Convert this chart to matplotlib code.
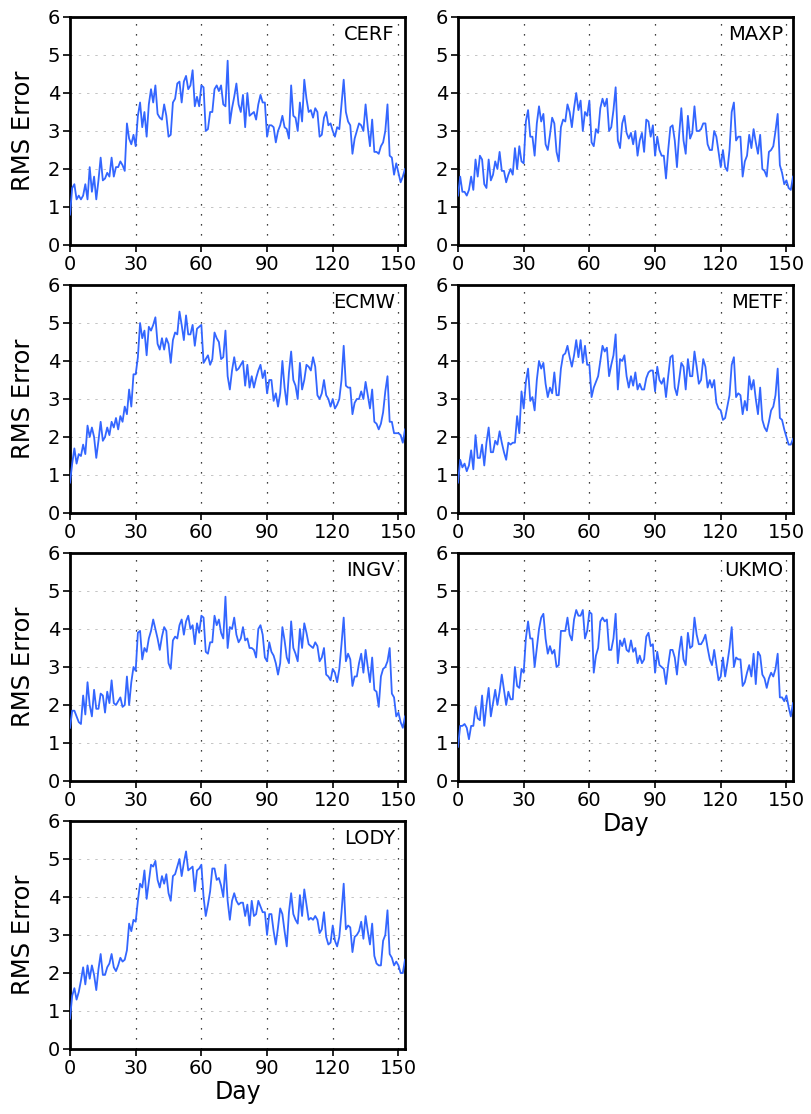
import numpy as np
import matplotlib
matplotlib.use("Agg")
import matplotlib.pyplot as plt

models = ["CERF", "MAXP", "ECMW", "METF", "INGV", "UKMO", "LODY"]

cerf = [0.8, 1.5, 1.6, 1.2, 1.3, 1.2, 1.3, 1.6, 1.2, 2.05,
        1.4, 1.8, 1.2, 1.7, 2.3, 1.7, 1.75, 1.9, 1.8, 2.3,
        1.8, 2.05, 2.05, 2.2, 2.1, 1.95, 3.2, 2.8, 2.65, 2.9,
        2.6, 3.4, 3.75, 3.1, 3.5, 2.85, 3.7, 4.1, 3.75, 4.2,
        3.45, 3.35, 3.3, 3.7, 3.4, 2.85, 2.9, 3.75, 3.85, 4.25,
        4.3, 3.75, 4.3, 4.45, 4.1, 4.2, 4.6, 3.65, 3.9, 3.65,
        4.2, 4.15, 3.0, 3.05, 3.5, 3.5, 4.1, 4.2, 4.05, 4.2,
        3.7, 3.65, 4.85, 3.2, 3.6, 3.9, 4.25, 3.7, 3.5, 3.95,
        3.1, 4.0, 3.4, 3.45, 3.5, 3.3, 3.7, 3.95, 3.75, 3.75,
        2.85, 3.15, 3.15, 3.1, 2.7, 3.0, 3.15, 3.4, 3.1, 3.05,
        2.8, 4.2, 3.4, 3.35, 3.0, 3.75, 3.25, 4.35, 3.85, 3.5,
        3.55, 3.35, 3.6, 3.5, 2.85, 2.9, 3.35, 3.5, 3.15, 3.2,
        3.0, 2.85, 3.1, 3.05, 3.7, 4.35, 3.5, 3.25, 3.15, 2.4,
        2.8, 3.0, 3.2, 3.15, 3.0, 3.7, 3.1, 2.6, 3.3, 2.45,
        2.45, 2.4, 2.6, 2.7, 3.0, 3.7, 2.35, 2.3, 1.85, 2.15,
        1.9, 1.65, 1.8, 2.0]

maxp = [1.3, 1.8, 1.4, 1.4, 1.3, 1.45, 1.8, 1.45, 2.25, 1.8,
        2.35, 2.25, 1.6, 1.5, 2.25, 1.7, 1.85, 2.2, 2.0, 2.45,
        1.95, 1.95, 1.65, 1.85, 2.0, 1.85, 2.55, 2.0, 2.6, 2.2,
        2.15, 3.25, 3.55, 2.85, 2.85, 2.35, 3.2, 3.65, 3.25, 3.45,
        2.65, 2.5, 2.9, 3.35, 3.2, 2.45, 2.2, 3.1, 3.3, 3.25,
        3.7, 3.5, 3.1, 3.6, 4.0, 3.55, 3.8, 3.0, 3.5, 3.4,
        3.8, 2.7, 2.6, 3.05, 2.95, 3.6, 3.85, 3.65, 3.85, 3.0,
        3.1, 3.55, 4.15, 2.75, 2.55, 3.2, 3.4, 2.95, 2.8, 2.95,
        2.65, 3.0, 2.35, 2.75, 2.95, 2.45, 3.3, 3.25, 2.85, 3.15,
        2.35, 2.85, 2.5, 2.35, 2.35, 1.75, 2.5, 3.1, 3.15, 2.75,
        2.05, 2.9, 3.6, 2.75, 2.4, 3.4, 2.8, 2.95, 3.65, 3.0,
        3.0, 3.05, 3.2, 3.2, 2.65, 2.5, 2.5, 3.0, 2.85, 2.45,
        2.05, 2.5, 2.05, 1.95, 2.5, 3.5, 3.75, 2.75, 2.85, 2.85,
        1.8, 2.2, 2.35, 2.9, 2.55, 3.05, 2.7, 2.4, 2.9, 2.0,
        1.95, 1.8, 2.45, 2.5, 2.6, 3.0, 3.45, 2.1, 1.9, 1.6,
        1.7, 1.5, 1.45, 1.8]

ecmw = [0.8, 1.3, 1.7, 1.3, 1.55, 1.5, 1.8, 1.55, 2.3, 2.0,
        2.25, 2.0, 1.45, 1.9, 2.4, 1.9, 2.0, 2.25, 2.05, 2.4,
        2.25, 2.5, 2.2, 2.55, 2.4, 2.8, 2.6, 3.25, 2.8, 3.65,
        3.65, 4.1, 5.0, 4.6, 4.8, 4.15, 4.9, 4.8, 4.95, 5.15,
        4.45, 4.3, 4.6, 4.3, 4.6, 4.45, 3.95, 4.55, 4.75, 4.7,
        5.3, 4.95, 4.55, 5.2, 4.7, 4.7, 4.95, 4.4, 4.85, 4.9,
        4.95, 3.95, 4.05, 4.15, 3.9, 4.05, 4.75, 4.6, 4.5, 4.05,
        4.1, 4.8, 3.6, 3.25, 3.75, 4.1, 3.75, 3.8, 3.9, 4.0,
        3.35, 3.9, 3.3, 3.6, 3.3, 3.55, 3.75, 3.9, 3.55, 3.75,
        3.15, 3.5, 3.5, 2.95, 3.15, 2.8, 3.15, 4.0, 3.3, 2.85,
        3.7, 4.25, 3.5, 3.35, 3.0, 3.95, 3.25, 3.5, 3.9, 3.85,
        3.75, 4.1, 3.85, 3.1, 3.0, 3.15, 3.5, 3.1, 3.0, 2.8,
        3.0, 2.75, 2.85, 3.0, 3.5, 4.4, 3.35, 3.3, 3.3, 2.6,
        2.9, 3.0, 3.0, 3.2, 3.0, 3.45, 3.1, 2.75, 3.25, 2.4,
        2.35, 2.2, 2.35, 2.65, 3.2, 3.6, 2.4, 2.4, 2.1, 2.1,
        2.1, 2.05, 1.85, 2.2]

metf = [0.8, 1.4, 1.2, 1.3, 1.1, 1.25, 1.65, 1.15, 2.05, 1.45,
        1.45, 1.8, 1.25, 1.85, 2.25, 1.6, 1.6, 1.9, 1.8, 2.15,
        1.85, 1.6, 1.4, 1.85, 1.8, 1.85, 1.85, 2.55, 2.1, 3.2,
        2.75, 3.45, 3.8, 2.95, 3.05, 2.7, 3.5, 4.0, 3.8, 3.95,
        3.4, 3.05, 3.3, 3.15, 3.7, 3.1, 3.1, 3.8, 4.15, 4.2,
        4.4, 4.1, 3.85, 4.15, 4.55, 4.1, 4.55, 3.95, 4.4, 3.9,
        3.9, 3.05, 3.3, 3.45, 3.6, 4.0, 4.4, 4.25, 4.35, 3.6,
        3.9, 4.15, 4.7, 3.25, 4.05, 4.0, 4.15, 3.6, 3.3, 3.6,
        3.35, 3.7, 3.25, 3.4, 3.25, 3.25, 3.55, 3.7, 3.75, 3.75,
        3.2, 3.85, 3.5, 3.4, 3.55, 3.05, 3.6, 4.1, 4.15, 3.3,
        3.1, 3.5, 3.95, 3.85, 3.25, 4.05, 3.6, 3.6, 4.25, 3.85,
        3.4, 3.5, 4.05, 3.85, 3.3, 3.5, 3.3, 3.5, 2.9, 2.75,
        2.7, 2.45, 2.5, 2.8, 3.1, 3.9, 4.1, 3.05, 3.15, 3.1,
        2.6, 2.95, 2.7, 3.6, 3.25, 3.5, 3.0, 2.6, 3.3, 2.45,
        2.25, 2.15, 2.4, 2.7, 2.8, 3.1, 3.8, 2.5, 2.45, 2.2,
        2.0, 1.8, 1.8, 1.95]

ingv = [1.4, 1.85, 1.85, 1.7, 1.55, 1.5, 2.25, 1.75, 2.6, 2.0,
        1.7, 2.4, 1.9, 1.9, 2.3, 2.25, 1.8, 2.35, 2.05, 2.65,
        2.05, 2.0, 2.1, 2.2, 1.95, 2.0, 2.75, 2.0, 2.6, 3.0,
        2.9, 3.9, 3.95, 3.2, 3.5, 3.4, 3.75, 3.95, 4.25, 4.0,
        3.75, 3.45, 3.8, 4.05, 3.95, 3.1, 2.95, 3.7, 3.8, 3.75,
        4.1, 4.25, 3.85, 4.2, 4.35, 4.0, 4.1, 3.6, 4.15, 3.9,
        4.35, 4.3, 3.4, 3.35, 3.65, 3.65, 4.35, 4.1, 4.25, 3.9,
        3.75, 4.85, 3.5, 4.05, 4.0, 4.3, 3.85, 3.65, 3.75, 4.05,
        3.7, 3.75, 3.5, 3.5, 3.45, 3.25, 4.0, 4.1, 3.85, 3.25,
        3.15, 3.65, 3.4, 3.3, 3.1, 2.8, 3.1, 4.05, 3.7, 3.25,
        3.1, 4.2, 3.5, 3.35, 3.15, 4.0, 3.5, 4.15, 3.9, 3.6,
        3.55, 3.5, 3.65, 3.55, 3.15, 3.25, 3.5, 2.8, 2.75, 2.65,
        2.95, 2.85, 2.6, 2.95, 3.6, 4.3, 3.15, 3.35, 3.2, 2.5,
        2.75, 2.75, 3.1, 3.35, 2.85, 3.45, 3.0, 2.6, 3.25, 2.4,
        2.35, 1.95, 2.75, 2.95, 3.0, 3.15, 3.5, 2.3, 2.2, 1.7,
        1.8, 1.55, 1.4, 1.7]

ukmo = [0.9, 1.45, 1.45, 1.5, 1.4, 1.1, 1.45, 1.45, 1.95, 1.65,
        1.6, 2.25, 1.45, 2.0, 2.45, 1.7, 2.05, 2.4, 2.0, 2.35,
        2.8, 2.4, 2.0, 2.35, 2.15, 2.15, 3.0, 2.5, 2.45, 2.95,
        2.85, 3.75, 4.2, 3.75, 3.75, 3.0, 3.5, 4.0, 4.3, 4.4,
        3.75, 3.35, 3.55, 3.35, 3.45, 3.0, 3.05, 3.95, 3.95, 3.95,
        4.3, 3.85, 3.7, 4.25, 4.5, 4.35, 4.35, 4.5, 3.75, 3.95,
        4.45, 4.4, 2.85, 3.3, 3.5, 4.2, 4.3, 4.2, 4.25, 3.45,
        3.45, 3.75, 4.4, 3.1, 3.7, 3.55, 3.75, 3.45, 3.4, 3.7,
        3.4, 3.5, 3.1, 3.3, 3.1, 3.2, 3.8, 3.9, 3.55, 3.6,
        2.85, 3.4, 3.05, 3.0, 2.95, 2.55, 3.05, 3.45, 3.45, 3.25,
        2.8, 3.4, 3.8, 3.2, 3.05, 3.9, 3.5, 3.55, 4.3, 3.85,
        3.6, 3.6, 3.7, 3.85, 3.5, 3.2, 3.05, 3.45, 3.05, 2.65,
        2.75, 3.25, 2.75, 3.1, 3.5, 4.05, 3.0, 3.25, 3.2, 3.2,
        2.5, 2.6, 2.85, 3.05, 2.75, 3.35, 2.55, 3.4, 3.3, 2.8,
        2.7, 2.45, 2.7, 2.85, 2.75, 2.95, 3.35, 2.2, 2.2, 2.1,
        2.25, 1.95, 1.7, 2.05]

lody = [0.8, 1.4, 1.6, 1.3, 1.5, 1.8, 2.15, 1.7, 2.2, 1.85,
        2.2, 1.95, 1.55, 2.1, 2.5, 1.95, 1.95, 2.15, 2.25, 2.5,
        2.15, 2.05, 2.2, 2.4, 2.3, 2.35, 2.6, 3.3, 3.1, 3.4,
        3.35, 3.9, 4.35, 4.25, 4.7, 3.95, 4.4, 4.85, 4.8, 4.95,
        4.45, 4.25, 4.55, 4.35, 4.6, 4.1, 3.9, 4.55, 4.6, 4.8,
        5.0, 4.55, 4.9, 5.2, 4.7, 4.75, 4.8, 4.15, 4.7, 4.75,
        4.85, 4.0, 3.5, 3.8, 4.15, 4.75, 4.75, 4.45, 4.5, 4.3,
        4.0, 4.85, 3.9, 3.4, 3.9, 4.1, 3.9, 3.8, 3.85, 3.85,
        3.5, 3.8, 3.25, 3.9, 3.5, 3.55, 3.9, 3.75, 3.6, 3.6,
        3.0, 3.55, 3.55, 3.1, 2.75, 3.2, 3.7, 3.55, 3.1, 2.7,
        3.6, 4.1, 3.55, 3.4, 3.3, 4.05, 3.5, 4.2, 3.8, 3.4,
        3.45, 3.4, 3.5, 3.4, 3.05, 3.15, 3.6, 2.95, 2.75, 2.8,
        3.25, 2.85, 2.7, 2.95, 3.6, 4.35, 3.15, 3.25, 3.2, 2.55,
        2.95, 3.0, 3.1, 3.35, 2.9, 3.5, 3.1, 2.75, 3.3, 2.45,
        2.25, 2.2, 2.2, 2.85, 3.0, 3.65, 2.5, 2.4, 2.2, 2.3,
        2.2, 2.0, 2.0, 2.35]

series = [cerf, maxp, ecmw, metf, ingv, ukmo, lody]
x_ticks = [0, 30, 60, 90, 120, 150]
y_ticks = [0, 1, 2, 3, 4, 5, 6]

W, H = 811, 1114
fig = plt.figure(figsize=(W / 100, H / 100), dpi=100)
plt.rcParams['font.family'] = ['DejaVu Sans']

ax_w, ax_h = 335, 228
lefts = [70, 458]
tops = [17, 285, 553, 821]

line_color = '#3366ff'

for i, (name, vals) in enumerate(zip(models, series)):
    row, col = divmod(i, 2)
    l = lefts[col]
    t = tops[row]
    ax = fig.add_axes([l / W, 1 - (t + ax_h) / H, ax_w / W, ax_h / H])
    days = np.arange(len(vals))
    for xv in [30, 60, 90, 120, 150]:
        ax.axvline(xv, color='black', lw=0.9, ls=(0, (1, 7)), zorder=1)
    for yv in [1, 2, 3, 4, 5]:
        ax.axhline(yv, color='#c4c4c4', lw=0.7, ls=(0, (2.5, 6)), zorder=1)
    ax.plot(days, vals, color=line_color, lw=1.3, zorder=3)
    ax.set_xlim(0, 153)
    ax.set_ylim(0, 6)
    ax.set_xticks(x_ticks)
    ax.set_yticks(y_ticks)
    ax.tick_params(direction='out', length=5, width=1.2, labelsize=14, pad=2)
    for s in ax.spines.values():
        s.set_linewidth(2.0)
    ax.text(0.97, 0.965, name, transform=ax.transAxes, ha='right', va='top',
            fontsize=14)
    if col == 0:
        ax.set_ylabel('RMS Error', fontsize=17.5, labelpad=9)
    if name in ('UKMO', 'LODY'):
        ax.set_xlabel('Day', fontsize=17, labelpad=2)

fig.savefig('out.png', dpi=100)
